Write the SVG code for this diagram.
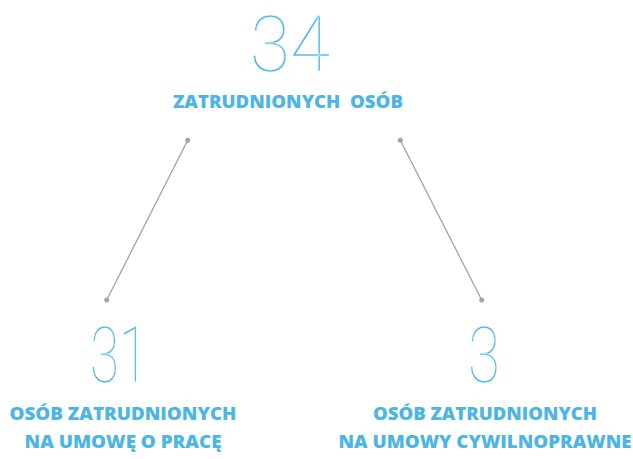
<svg xmlns="http://www.w3.org/2000/svg" width="633" height="459" viewBox="0 0 633 459">
<style>
.num{font-family:"Roboto","Inter","Lato",sans-serif;font-weight:100;font-size:77px;fill:#4cb5e6;stroke:#fff;stroke-width:0.4;text-anchor:middle}
.lbl{font-family:"Open Sans","Lato","Liberation Sans",sans-serif;font-weight:800;font-size:17.5px;fill:#4cb5e6;text-anchor:middle;white-space:pre}
.conn line{stroke:#a3a3a3;stroke-width:1.3}
.conn circle{fill:#a3a3a3}
</style>
<rect width="633" height="459" fill="#fff"/>
<g id="top">
<text class="num" x="290" y="71" textLength="80" lengthAdjust="spacingAndGlyphs">34</text>
<text class="lbl" x="288" y="108" textLength="230" lengthAdjust="spacingAndGlyphs" xml:space="preserve">ZATRUDNIONYCH  OSÓB</text>
</g>
<g id="left">
<text class="num" x="119" y="382" textLength="58" lengthAdjust="spacingAndGlyphs">31</text>
<text class="lbl" x="123" y="420" textLength="227" lengthAdjust="spacingAndGlyphs">OSÓB ZATRUDNIONYCH</text>
<text class="lbl" x="123" y="448" textLength="197" lengthAdjust="spacingAndGlyphs">NA UMOWĘ O PRACĘ</text>
</g>
<g id="right">
<text class="num" x="484" y="382" textLength="32" lengthAdjust="spacingAndGlyphs">3</text>
<text class="lbl" x="485" y="420" textLength="224" lengthAdjust="spacingAndGlyphs">OSÓB ZATRUDNIONYCH</text>
<text class="lbl" x="485" y="448" textLength="293" lengthAdjust="spacingAndGlyphs">NA UMOWY CYWILNOPRAWNE</text>
</g>
<g id="connectors" class="conn">
<line x1="187.7" y1="140.3" x2="106.7" y2="300"/>
<circle cx="187.7" cy="140.3" r="2.5"/>
<circle cx="106.7" cy="300" r="2.5"/>
<line x1="400.3" y1="140.3" x2="481.7" y2="300"/>
<circle cx="400.3" cy="140.3" r="2.5"/>
<circle cx="481.7" cy="300" r="2.5"/>
</g>
</svg>
